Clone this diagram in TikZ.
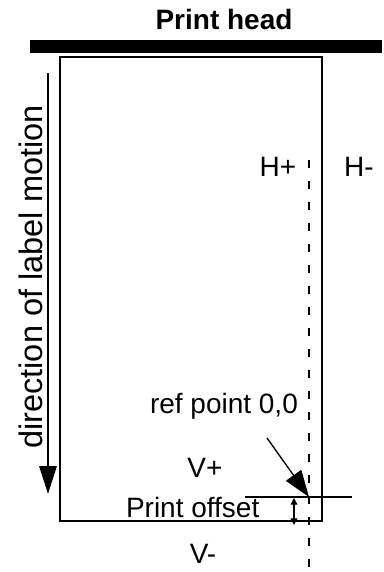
\documentclass[tikz,border=0pt]{standalone}
\usepackage{fontspec}
\setmainfont{Liberation Sans}
\usetikzlibrary{arrows.meta,positioning}

\begin{document}
\begin{tikzpicture}[x=0.75pt,y=-0.75pt,line width=1.5pt,
   lbl/.style={font=\fontsize{21}{25}\selectfont,inner sep=0pt,anchor=base},
   bigtip/.style={-{Triangle[length=20pt,width=14pt]}},
   axis/.style={line width=1.5pt,dash pattern=on 6pt off 9.75pt}]
  \useasboundingbox (0,0) rectangle (383,572);
  % print head and label
  \node[lbl,font=\bfseries\fontsize{21}{25}\selectfont] (head) at (224,29) {Print head};
  \fill (30,40) rectangle (382,53);
  \coordinate (lt) at (60,57);
  \coordinate (rb) at (322,521);
  \draw (lt) rectangle (rb);
  % motion
  \coordinate (m1) at (48,73);
  \coordinate (m2) at (48,494);
  \draw[-{Triangle[length=21pt,width=13pt]}] (m1) -- (m2);
  \node[lbl,rotate=90,font=\fontsize{24.4}{29}\selectfont] (motion) at (42,277)
       {direction of label motion};
  % reference axes
  \coordinate (d1) at (309,160);
  \coordinate (d2) at (309,572);
  \draw[axis] (d1) -- (d2);
  \coordinate (o1) at (245,497);
  \coordinate (o2) at (352,497);
  \draw (o1) -- (o2);
  \node[lbl] (hp) at (278,176) {H+};
  \node[lbl] (hm) at (359,176) {H-};
  \node[lbl] (vp) at (205,477) {V+};
  \node[lbl] (vm) at (203,563) {V-};
  \node[lbl,anchor=base west] (ref) at (149,413) {ref point 0,0};
  \node[lbl,anchor=base west] (off) at (125,517) {Print offset};
  \coordinate (a1) at (267,438);
  \coordinate (ref0) at (309,497);
  \draw[bigtip,line width=1pt] (a1) -- (ref0);
  \coordinate (s1) at (294,498);
  \coordinate (s2) at (294,525);
  \draw[{Triangle[length=5pt,width=5pt]}-{Triangle[length=5pt,width=5pt]},line width=1pt] (s1) -- (s2);
\end{tikzpicture}
\end{document}
